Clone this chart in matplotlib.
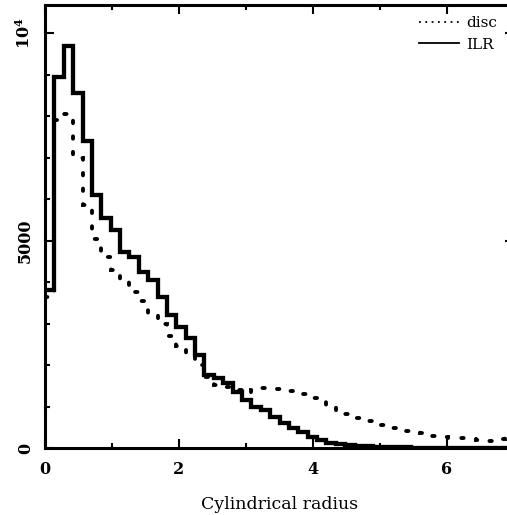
import matplotlib
matplotlib.use("Agg")
import matplotlib.pyplot as plt
from matplotlib.lines import Line2D
from matplotlib.ticker import MultipleLocator, FixedLocator, FixedFormatter
import numpy as np

# 50 bins of width 0.14 between 0 and 7
edges = np.linspace(0, 7, 51)

ilr = [3800, 8950, 9700, 8550, 7400, 6100, 5540, 5250, 4720, 4600,
       4240, 4050, 3640, 3200, 2920, 2650, 2240, 1760, 1690, 1570,
       1350, 1160, 990, 920, 750, 600, 480, 390, 270, 190,
       130, 95, 70, 50, 40, 30, 25, 20, 15, 12,
       10, 8, 6, 5, 4, 3, 3, 2, 2, 1]

disc = [3650, 7900, 8050, 7000, 5850, 5050, 4600, 4300, 4000, 3750,
        3550, 3250, 3000, 2700, 2450, 2250, 2000, 1700, 1530, 1480,
        1400, 1330, 1400, 1450, 1430, 1400, 1380, 1300, 1200, 1100,
        1030, 900, 820, 720, 640, 560, 550, 480, 410, 380,
        360, 300, 270, 250, 240, 240, 200, 180, 210, 230]

ytick_pos = [0, 5000, 10000]
ytick_lab = ['0', '5000', r'$\mathbf{10^4}$']
xtick_pos = [0, 2, 4, 6]

plt.rcParams['font.family'] = ['DejaVu Serif']
plt.rcParams['mathtext.fontset'] = 'dejavuserif'

fig = plt.figure(figsize=(5.07, 5.15), dpi=100)
ax = fig.add_axes([45 / 507, 67 / 515, 469 / 507, 443 / 515])

ax.stairs(ilr, edges, color='black', lw=3.1, baseline=None)
ax.stairs(disc, edges, color='black', lw=2.8, baseline=None,
          linestyle=(0, (0.6, 3.4)))
for p in ax.patches:
    p.set_joinstyle('miter')
ax.patches[1].set_capstyle('round')

ax.set_xlim(0, 7)
ax.set_ylim(0, 10680)

ax.xaxis.set_major_locator(FixedLocator(xtick_pos))
ax.xaxis.set_minor_locator(MultipleLocator(1))
ax.yaxis.set_major_locator(FixedLocator(ytick_pos))
ax.yaxis.set_major_formatter(FixedFormatter(ytick_lab))
ax.yaxis.set_minor_locator(MultipleLocator(1000))

ax.tick_params(which='both', direction='in', top=True, right=True, width=1.5)
ax.tick_params(which='major', length=6.5)
ax.tick_params(which='minor', length=3.5)
ax.tick_params(axis='x', which='major', pad=9, labelsize=11.5)
ax.tick_params(axis='y', which='major', pad=8, labelsize=11.5)
for lab in ax.get_xticklabels():
    lab.set_fontweight('bold')
for lab in ax.get_yticklabels():
    lab.set_fontweight('bold')
    lab.set_rotation(90)
    lab.set_va('center')

for s in ax.spines.values():
    s.set_linewidth(2.2)

ax.set_xlabel('Cylindrical radius', fontsize=12.5, labelpad=13)

handles = [Line2D([], [], color='black', lw=1.3, linestyle=(0, (1, 2.5))),
           Line2D([], [], color='black', lw=1.3)]
fig.legend(handles, ['disc', 'ILR'], loc='upper left',
           bbox_to_anchor=(413 / 507, 1 - 10 / 515), frameon=False,
           fontsize=11, handlelength=2.6, handletextpad=0.5,
           labelspacing=0.5, borderaxespad=0)

fig.savefig('out.png', dpi=100)
